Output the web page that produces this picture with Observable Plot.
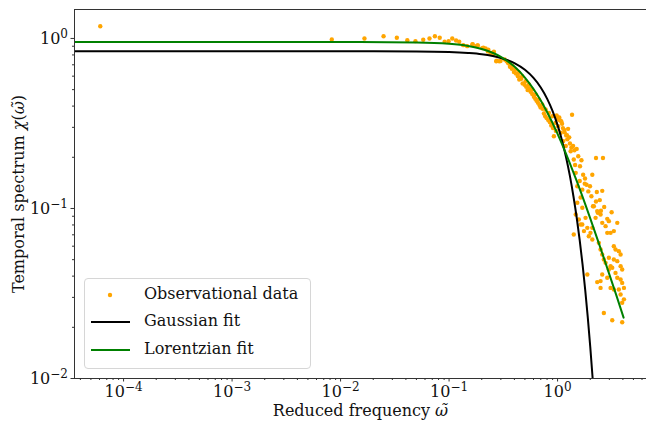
<!DOCTYPE html>
<html>
<head>
<meta charset="utf-8">
<script src="https://cdn.jsdelivr.net/npm/d3@7"></script>
<script src="https://cdn.jsdelivr.net/npm/@observablehq/plot@0.6"></script>
<style>
  html, body { margin: 0; padding: 0; background: #fff; }
  #wrap { position: relative; width: 646px; height: 425px; font-family: "DejaVu Serif", serif; }
  #legend { position: absolute; left: 84px; top: 278px; width: 227px; height: 91px;
    border: 1px solid #d6d6d6; border-radius: 4px; background: rgba(255,255,255,0.85); box-sizing: border-box; }
  .item { position: absolute; left: 0; height: 20px; width: 100%; }
  .item span { position: absolute; left: 59px; top: -1px; font-size: 16px; line-height: 20px; color: #111; white-space: nowrap; }
  .item svg { position: absolute; left: 0; top: 0; }
</style>
</head>
<body>
<div id="wrap"></div>
<script>
// Observational data (reduced frequency, temporal spectrum)
const obsX = [
  6.1e-5, 0.0083, 0.0166, 0.0249, 0.033, 0.0412, 0.049, 0.0578, 0.066, 0.074, 0.082, 0.091, 0.099, 0.107, 0.116, 0.124, 0.135, 0.147, 0.165, 0.178, 0.183, 0.202, 0.217, 0.23, 0.241, 0.259, 0.272, 0.29,
  0.164, 0.184, 0.207, 0.228, 0.245, 0.259, 0.274, 0.298, 0.325, 0.348, 0.364, 0.379, 0.396, 0.413, 0.431, 0.443, 0.463, 0.476, 0.496, 0.514, 0.529, 0.548, 0.564, 0.584, 0.605, 0.623, 0.640, 0.659, 0.683, 0.697, 0.727, 0.748, 0.769, 0.792, 0.820, 0.850, 0.874, 0.906, 0.925, 0.965, 0.993, 1.036, 1.081, 1.12, 1.16, 1.20, 1.25, 1.30, 1.36, 1.39, 1.43, 1.50, 1.55, 1.61, 1.66, 1.72, 1.79, 1.85, 1.92, 1.99, 2.09, 2.26, 2.62, 2.58, 2.12, 2.26, 2.35, 2.51, 2.69, 3.15, 2.87, 1.69, 1.63, 1.52, 1.47, 1.41, 1.32, 1.23, 1.19, 1.13, 1.07, 1.01, 0.959, 0.893, 0.832, 0.775, 0.722, 0.673, 0.627, 0.584, 0.544, 0.507, 0.472, 0.440, 0.410, 0.382, 0.356, 0.339,
  1.52, 1.69, 1.47, 1.57, 1.63, 1.41, 1.75, 1.88, 2.01, 2.09, 1.94, 2.16, 2.32, 2.49, 2.58, 2.77, 2.97, 2.87, 3.08, 3.30, 3.55, 2.40, 2.49, 2.58, 2.67, 2.77, 2.97, 3.30, 3.42, 3.67, 3.81, 3.55, 3.30, 3.08, 2.97, 3.19, 3.81, 3.94, 3.42, 2.58, 2.87, 2.49, 2.32, 3.55, 3.81, 3.94, 4.09, 3.67, 3.81, 3.30, 3.08, 2.49, 4.09, 3.94, 2.67, 3.19, 3.94, 1.88, 1.69, 1.81, 2.24, 2.09,
  1.05, 1.10, 1.15, 1.28, 1.34, 0.98, 1.22, 1.45, 1.60, 2.05, 2.30, 2.45, 1.78
];
const obsY = [
  1.18, 0.987, 1.0, 1.03, 1.01, 0.977, 0.964, 0.982, 1.0, 1.03, 1.01, 0.956, 0.964, 1.0, 0.973, 0.956, 0.913, 0.901, 0.926, 0.901, 0.91, 0.877, 0.873, 0.858, 0.82, 0.835, 0.735, 0.735,
  0.922, 0.910, 0.881, 0.839, 0.823, 0.812, 0.739, 0.736, 0.752, 0.719, 0.681, 0.663, 0.634, 0.622, 0.600, 0.574, 0.579, 0.544, 0.534, 0.520, 0.497, 0.510, 0.486, 0.471, 0.454, 0.442, 0.430, 0.418, 0.404, 0.393, 0.386, 0.362, 0.349, 0.340, 0.331, 0.322, 0.308, 0.297, 0.266, 0.286, 0.337, 0.343, 0.326, 0.297, 0.281, 0.269, 0.294, 0.241, 0.356, 0.233, 0.220, 0.224, 0.203, 0.177, 0.192, 0.158, 0.150, 0.138, 0.126, 0.135, 0.158, 0.198, 0.198, 0.127, 0.103, 0.110, 0.0943, 0.0969, 0.102, 0.0951, 0.0869, 0.129, 0.116, 0.135, 0.162, 0.194, 0.217, 0.255, 0.233, 0.249, 0.279, 0.305, 0.319, 0.349, 0.365, 0.382, 0.409, 0.438, 0.469, 0.501, 0.536, 0.561, 0.600, 0.628, 0.657, 0.688, 0.713, 0.736,
  0.108, 0.101, 0.0922, 0.0861, 0.0805, 0.0703, 0.0736, 0.0769, 0.0719, 0.0657, 0.0687, 0.103, 0.0965, 0.0922, 0.0823, 0.0787, 0.0842, 0.0719, 0.0719, 0.0736, 0.0823, 0.0628, 0.0574, 0.0536, 0.0501, 0.0479, 0.0513, 0.060, 0.0574, 0.0561, 0.0536, 0.049, 0.0501, 0.0458, 0.0438, 0.0448, 0.0458, 0.0438, 0.0418, 0.0409, 0.0391, 0.0374, 0.0369, 0.0391, 0.0382, 0.0365, 0.0341, 0.0334, 0.0312, 0.0334, 0.0341, 0.0341, 0.0292, 0.0279, 0.0243, 0.0220, 0.0214, 0.0409, 0.0805, 0.0881, 0.0881, 0.0769,
  0.330, 0.315, 0.290, 0.262, 0.228, 0.352, 0.270, 0.180, 0.145, 0.118, 0.125, 0.112, 0.140
];

// Gaussian fit curve
const gaussX = [3e-5, 1e-3, 0.01, 0.05, 0.1, 0.15, 0.2, 0.3, 0.4, 0.5, 0.6, 0.7, 0.8, 0.9, 1.0, 1.1, 1.2, 1.3, 1.4, 1.5, 1.6, 1.7, 1.8, 1.9, 2.0, 2.1, 2.2];
const gaussY = [0.84, 0.84, 0.84, 0.838, 0.832, 0.821, 0.807, 0.768, 0.716, 0.654, 0.586, 0.515, 0.443, 0.374, 0.309, 0.2505, 0.199, 0.155, 0.118, 0.0885, 0.0649, 0.0467, 0.0329, 0.0227, 0.0154, 0.0102, 0.0066];

// Lorentzian fit curve
const lorX = [3e-5, 1e-3, 0.01, 0.05, 0.1, 0.15, 0.2, 0.3, 0.4, 0.5, 0.6, 0.7, 0.8, 1.0, 1.2, 1.5, 2.0, 2.5, 3.0, 3.5, 4.06];
const lorY = [0.953, 0.953, 0.953, 0.947, 0.930, 0.903, 0.867, 0.780, 0.683, 0.589, 0.504, 0.431, 0.369, 0.2745, 0.209, 0.1452, 0.0875, 0.0579, 0.0410, 0.0305, 0.0228];

// Axis ticks
const xTicks = [1e-4, 1e-3, 1e-2, 1e-1, 1];
const yTicks = [1e-2, 1e-1, 1];
const xDomain = [3.53e-5, 6.6];
const yDomain = [0.01, 1.48];

const labels = { x: "Reduced frequency ω̃", y: "Temporal spectrum χ(ω̃)" };
const legendItems = ["Observational data", "Gaussian fit", "Lorentzian fit"];

function minors(domain) {
  const out = [];
  for (let e = -6; e <= 1; e++) for (let k = 2; k <= 9; k++) {
    const v = k * Math.pow(10, e);
    if (v >= domain[0] && v <= domain[1]) out.push(v);
  }
  return out;
}
const fmt = d => "10^" + Math.round(Math.log10(d));

const axisColor = "#333";
const FS = 16;
const chart = Plot.plot({
  width: 646, height: 425,
  marginLeft: 74, marginRight: 0, marginTop: 9, marginBottom: 47,
  style: { fontFamily: "DejaVu Serif, serif", fontSize: FS + "px", background: "white", color: "#111" },
  x: { type: "log", domain: xDomain },
  y: { type: "log", domain: yDomain },
  marks: [
    Plot.dot({length: obsX.length}, { x: obsX, y: obsY, r: 2.2, fill: "#FFA500", stroke: "none", clip: true }),
    Plot.line({length: gaussX.length}, { x: gaussX, y: gaussY, stroke: "#000", strokeWidth: 2, curve: "monotone-x", clip: true }),
    Plot.line({length: lorX.length}, { x: lorX, y: lorY, stroke: "#008000", strokeWidth: 2, curve: "monotone-x", clip: true }),
    Plot.ruleX([xDomain[0]], { stroke: axisColor, strokeWidth: 1 }),
    Plot.ruleY([yDomain[0]], { stroke: axisColor, strokeWidth: 1 }),
    Plot.ruleY([yDomain[1]], { stroke: axisColor, strokeWidth: 1 }),
    Plot.axisX({ ticks: minors(xDomain), tickSize: 2, tickFormat: () => "", label: null, stroke: axisColor }),
    Plot.axisY({ ticks: minors(yDomain), tickSize: 2, tickFormat: () => "", label: null, stroke: axisColor }),
    Plot.axisX({ ticks: xTicks, tickSize: 3.5, tickPadding: 4, tickFormat: fmt, label: null, stroke: axisColor, fontSize: FS }),
    Plot.axisY({ ticks: yTicks, tickSize: 3.5, tickPadding: 3, tickFormat: fmt, label: null, stroke: axisColor, fontSize: FS }),
    Plot.text([labels.x], { frameAnchor: "bottom", dy: 32, lineAnchor: "middle", textAnchor: "middle", fontSize: FS, text: d => d }),
    Plot.text([labels.y], { frameAnchor: "left", dx: -56, rotate: -90, lineAnchor: "middle", textAnchor: "middle", fontSize: FS, text: d => d })
  ]
});

// Typeset powers of ten as superscripts and math symbols in italics
chart.querySelectorAll("text").forEach(t => {
  const s = t.textContent;
  const m = s.match(/^10\^(-?\d+)$/);
  if (m) {
    const e = m[1].replace("-", "\u2212");
    t.innerHTML = `10<tspan dy="-6" font-size="${Math.round(FS * 0.72)}">${e}</tspan>`;
  } else if (s === labels.x) {
    t.innerHTML = `Reduced frequency <tspan font-style="italic">ω̃</tspan>`;
  } else if (s === labels.y) {
    t.innerHTML = `Temporal spectrum <tspan font-style="italic">χ</tspan>(<tspan font-style="italic">ω̃</tspan>)`;
  }
});

const wrap = document.getElementById("wrap");
wrap.appendChild(chart);

// Legend
const legend = document.createElement("div");
legend.id = "legend";
const rows = [
  { t: legendItems[0], y: 6, kind: "dot", c: "#FFA500" },
  { t: legendItems[1], y: 33, kind: "line", c: "#000" },
  { t: legendItems[2], y: 61, kind: "line", c: "#008000" }
];
for (const r of rows) {
  const it = document.createElement("div");
  it.className = "item";
  it.style.top = r.y + "px";
  const sw = r.kind === "dot"
    ? `<svg width="56" height="20"><circle cx="25" cy="10" r="2.2" fill="${r.c}"/></svg>`
    : `<svg width="56" height="20"><line x1="6" x2="45" y1="10" y2="10" stroke="${r.c}" stroke-width="2"/></svg>`;
  it.innerHTML = sw + `<span>${r.t}</span>`;
  legend.appendChild(it);
}
wrap.appendChild(legend);
</script>
</body>
</html>
